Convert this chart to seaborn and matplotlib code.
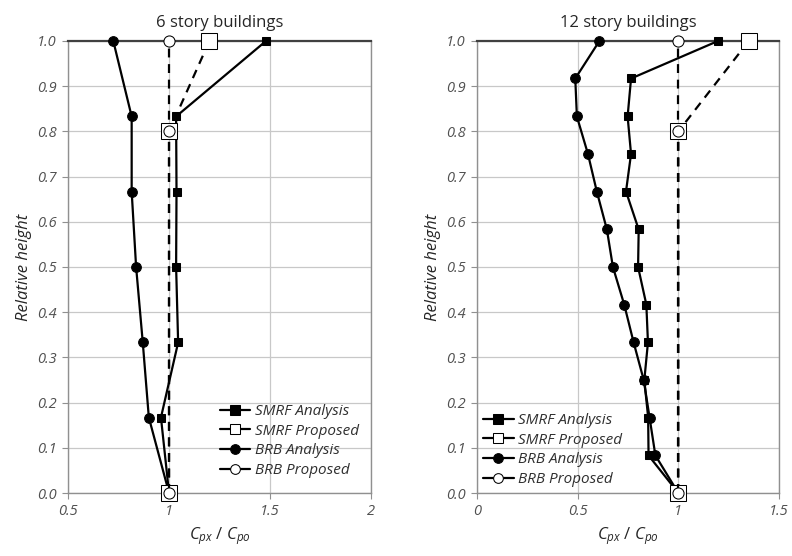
import matplotlib
matplotlib.use('Agg')
import matplotlib.pyplot as plt
import seaborn as sns

# Data
h6 = [0.0, 0.167, 0.333, 0.5, 0.667, 0.833, 1.0]
smrf6_analysis = [1.0, 0.96, 1.045, 1.035, 1.037, 1.035, 1.48]
brb6_analysis = [1.0, 0.90, 0.87, 0.837, 0.815, 0.815, 0.724]

h12 = [0.0, 0.083, 0.167, 0.25, 0.333, 0.417, 0.5, 0.583, 0.667, 0.75, 0.833, 0.917, 1.0]
smrf12_analysis = [1.0, 0.852, 0.85, 0.831, 0.849, 0.841, 0.80, 0.803, 0.74, 0.765, 0.748, 0.765, 1.197]
brb12_analysis = [1.0, 0.886, 0.857, 0.828, 0.778, 0.731, 0.675, 0.645, 0.595, 0.551, 0.496, 0.488, 0.608]

h_prop = [0.0, 0.8, 1.0]
smrf6_proposed = [1.0, 1.0, 1.2]
smrf12_proposed = [1.0, 1.0, 1.35]
brb_proposed = [1.0, 1.0, 1.0]

sns.set_theme(style='whitegrid')
plt.rcParams['font.family'] = ['Open Sans', 'DejaVu Sans']
plt.rcParams['mathtext.fontset'] = 'custom'
plt.rcParams['mathtext.it'] = 'Open Sans:italic'
plt.rcParams['mathtext.rm'] = 'Open Sans'

fig = plt.figure(figsize=(7.92, 5.56), dpi=100)
ax1 = fig.add_axes([0.0859, 0.1133, 0.3826, 0.813])
ax2 = fig.add_axes([0.6023, 0.1133, 0.3813, 0.813])

panels = [
    (ax1, '6 story buildings', h6, smrf6_analysis, brb6_analysis, smrf6_proposed,
     (0.5, 2.0), [0.5, 1, 1.5, 2], ['0.5', '1', '1.5', '2'], 'lower right', (0.98, 0.02)),
    (ax2, '12 story buildings', h12, smrf12_analysis, brb12_analysis, smrf12_proposed,
     (0.0, 1.5), [0, 0.5, 1, 1.5], ['0', '0.5', '1', '1.5'], 'lower left', (0.0, 0.0)),
]

common = dict(sort=False, estimator=None, orient='y', color='black', lw=1.6)

for ax, title, h, smrf_a, brb_a, smrf_p, xlim, xt, xtl, loc, anchor in panels:
    sns.lineplot(x=smrf_a, y=h, ax=ax, marker='s', markersize=6,
                 markerfacecolor='black', markeredgecolor='black',
                 label='SMRF Analysis', zorder=4, **common)
    sns.lineplot(x=smrf_p, y=h_prop, ax=ax, linestyle=(0, (4, 3)), marker='s',
                 markersize=11, markerfacecolor='white', markeredgecolor='black',
                 label='SMRF Proposed', zorder=5, **common)
    sns.lineplot(x=brb_a, y=h, ax=ax, marker='o', markersize=7,
                 markerfacecolor='black', markeredgecolor='black',
                 label='BRB Analysis', zorder=4, **common)
    sns.lineplot(x=brb_proposed, y=h_prop, ax=ax, linestyle=(0, (4, 3)), marker='o',
                 markersize=8, markerfacecolor='white', markeredgecolor='black',
                 label='BRB Proposed', zorder=6, **common)

    ax.set_xlim(*xlim)
    ax.set_ylim(0, 1.0)
    ax.set_xticks(xt)
    ax.set_xticklabels(xtl, style='italic', fontsize=10.5, color='#505050')
    ax.set_yticks([i / 10 for i in range(11)])
    ax.set_yticklabels([f'{i / 10:.1f}' for i in range(11)], style='italic',
                       fontsize=10.5, color='#505050')
    ax.tick_params(axis='both', length=4, width=0.8, color='#909090',
                   direction='out', left=True, bottom=True, pad=4)
    ax.grid(True, color='#c8c8c8', lw=0.9)
    for side in ['left', 'right', 'bottom']:
        ax.spines[side].set_color('#909090')
        ax.spines[side].set_linewidth(1.0)
    ax.spines['top'].set_color('#404040')
    ax.spines['top'].set_linewidth(1.6)
    for sp in ax.spines.values():
        sp.set_visible(True)
    ax.set_title(title, fontsize=12, pad=10)
    ax.set_xlabel(r'$C_{px}$ / $C_{po}$', fontsize=12, labelpad=4)
    ax.set_ylabel('Relative height', fontsize=12, style='italic', labelpad=4)
    for line in ax.lines:
        line.set_clip_on(False)
    leg = ax.legend(loc=loc, bbox_to_anchor=anchor, frameon=False, fontsize=11,
                    handlelength=2.0, handletextpad=0.3, labelspacing=0.3,
                    borderaxespad=0.0)
    for hl in leg.legend_handles:
        hl.set_markersize(7)
        hl.set_linestyle('-')
    for t in leg.get_texts():
        t.set_style('italic')
        t.set_color('#303030')

fig.savefig('out.png', dpi=100)
plt.close(fig)
